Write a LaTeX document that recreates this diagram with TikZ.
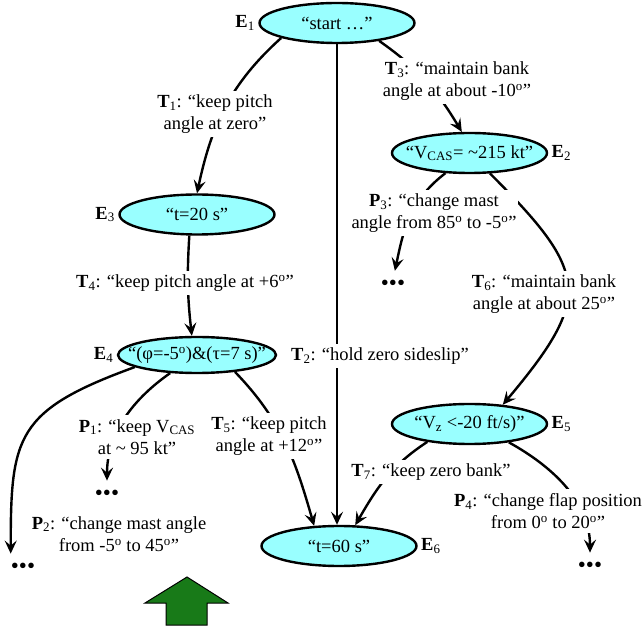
\documentclass[tikz,border=0pt]{standalone}
\usepackage{fontspec}
\setmainfont{Liberation Serif}
\usetikzlibrary{arrows.meta, shapes.geometric}
\definecolor{eventcyan}{RGB}{153,255,255}
\definecolor{arrowgreen}{RGB}{24,122,24}
\newcommand{\evtext}[1]{\hbox to 0pt{\hss#1\hss}}

\begin{document}
\begin{tikzpicture}[
    x=1pt, y=1pt,
    >={Stealth[length=13pt, width=12pt, inset=5pt]},
    font=\fontsize{18.5}{22}\selectfont,
    event/.style={ellipse, draw, line width=2.4pt, fill=eventcyan, minimum width=155pt, minimum height=40pt, inner sep=0pt, label distance=4pt},
    more dots/.style={inner sep=0pt, font=\fontsize{23}{22}\selectfont},
    cond label/.style={fill=white, align=center, inner xsep=2pt, inner ysep=4pt},
    flow edge/.style={line width=2.4pt, ->}
]
    \useasboundingbox (0,0) rectangle (643,627);

    % Place events
    \node[event, label=left:{\textbf{E}\textsubscript{1}}] (e1) at (337,604) {\evtext{“start …”}};
    \node[event, label=right:{\textbf{E}\textsubscript{2}}] (e2) at (469.5,474) {\evtext{“V\textsubscript{CAS}= \textasciitilde215 kt”}};
    \node[event, label=left:{\textbf{E}\textsubscript{3}}] (e3) at (197,412.5) {\evtext{“t=20 s”}};
    \node[event, minimum width=158pt, minimum height=36pt, label=left:{\textbf{E}\textsubscript{4}}] (e4) at (197,272) {\evtext{“(φ=-5\textsuperscript{o})\&(τ=7 s)”}};
    \node[event, label=right:{\textbf{E}\textsubscript{5}}] (e5) at (469.5,203) {\evtext{“V\textsubscript{z} <-20 ft/s)”}};
    \node[event, label=right:{\textbf{E}\textsubscript{6}}] (e6) at (339,81) {\evtext{“t=60 s”}};

    % Unfinished branches
    \node[more dots] (d1) at (107,132) {\textbullet\textbullet\textbullet};
    \node[more dots] (d2) at (23,59) {\textbullet\textbullet\textbullet};
    \node[more dots] (d3) at (393,342) {\textbullet\textbullet\textbullet};
    \node[more dots] (d4) at (590,60) {\textbullet\textbullet\textbullet};

    % Transitions
    \draw[flow edge] (e1.195) to[out=222, in=78] (e3.north);
    \draw[flow edge] (e1.south) -- (e1.south |- e6.north);
    \draw[flow edge] (e1.-23) to[out=-35, in=121] (e2.110);
    \draw[flow edge] (e3.250) to[bend right=5] (e4.105);
    \draw[flow edge] (e4.-24) to[out=-46, in=106] (e6.141);
    \draw[flow edge] (e2.-45) to[out=-45, in=50, looseness=1.55] (e5.30);
    \draw[flow edge] (e5.203) to[out=213, in=60] (e6.52);

    % Procedures
    \draw[flow edge, shorten >=9pt] (e4.214) to[out=215, in=90] (d1.north);
    \draw[flow edge, shorten >=9pt] (e4.191) to[out=200, in=90, looseness=1.4] (d2.north west);
    \draw[flow edge, shorten >=9pt] (e2.220) to[out=217, in=78] (d3.north);
    \draw[flow edge, shorten >=9pt] (e5.-25) to[out=-29, in=90] (d4.north);

    % Conditions on the arcs
    \node[cond label] (t1) at (215,513) {\textbf{T}\textsubscript{1}: “keep pitch\\angle at zero”};
    \node[cond label] (t2) at (380,271) {\textbf{T}\textsubscript{2}: “hold zero sideslip”};
    \node[cond label] (t3) at (457,546) {\textbf{T}\textsubscript{3}: “maintain bank\\angle at about -10\textsuperscript{o}”};
    \node[cond label] (t4) at (185,344) {\textbf{T}\textsubscript{4}: “keep pitch angle at +6\textsuperscript{o}”};
    \node[cond label] (t5) at (269,191) {\textbf{T}\textsubscript{5}: “keep pitch\\angle at +12\textsuperscript{o}”};
    \node[cond label] (t6) at (544,333) {\textbf{T}\textsubscript{6}: “maintain bank\\angle at about 25\textsuperscript{o}”};
    \node[cond label] (t7) at (431,155) {\textbf{T}\textsubscript{7}: “keep zero bank”};
    \node[cond label] (p1) at (137,190) {\textbf{P}\textsubscript{1}: “keep V\textsubscript{CAS}\\at \textasciitilde{} 95 kt”};
    \node[cond label] (p2) at (119,93) {\textbf{P}\textsubscript{2}: “change mast angle\\from -5\textsuperscript{o} to 45\textsuperscript{o}”};
    \node[cond label] (p3) at (434,414) {\textbf{P}\textsubscript{3}: “change mast\\angle from 85\textsuperscript{o} to -5\textsuperscript{o}”};
    \node[cond label] (p4) at (548,116) {\textbf{P}\textsubscript{4}: “change flap position\\from 0\textsuperscript{o} to 20\textsuperscript{o}”};

    % Green arrow
    \draw[fill=arrowgreen, line width=1pt] (166,2) -- (166,24) -- (145,24) -- (187,50) -- (228,24) -- (207,24) -- (207,2) -- cycle;

\end{tikzpicture}
\end{document}
